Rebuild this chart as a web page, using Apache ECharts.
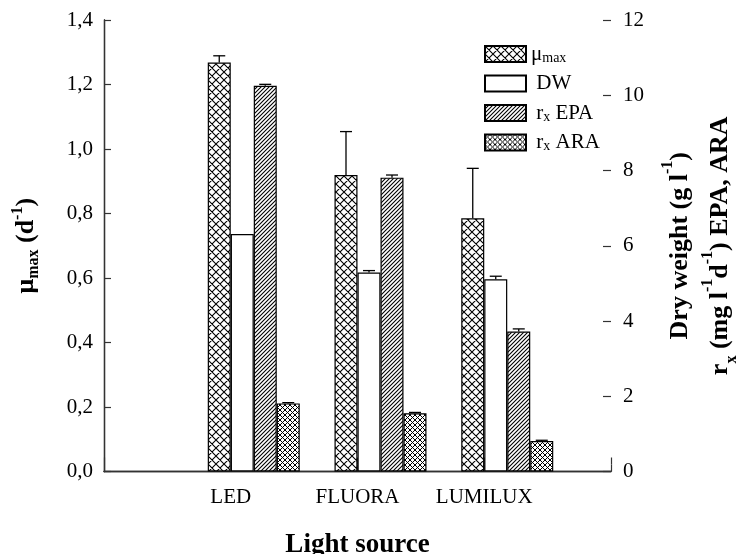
<!DOCTYPE html>
<html>
<head>
<meta charset="utf-8">
<script src="https://cdn.jsdelivr.net/npm/echarts@6/dist/echarts.min.js"></script>
<style>
  html, body { margin: 0; padding: 0; background: #fff; }
  #main { width: 739px; height: 554px; }
</style>
</head>
<body>
<div id="main"></div>
<script>
// light sources, placed at 1, 2, 3 on the x axis
const lightSources = ['LED', 'FLUORA', 'LUMILUX'];

// mu max (1/d), left axis
const muMax = [1.268, 0.919, 0.785];
const muMaxErr = [0.021, 0.135, 0.155];
// dry weight (g/l), right axis
const dryWeight = [6.31, 5.29, 5.11];
const dryWeightErr = [0.0, 0.05, 0.08];
// EPA productivity (mg/l/d), right axis
const epaRate = [10.25, 7.81, 3.72];
const epaRateErr = [0.04, 0.07, 0.07];
// ARA productivity (mg/l/d), right axis
const araRate = [1.81, 1.55, 0.81];
const araRateErr = [0.02, 0.02, 0.02];

const legendNames = ['μmax', 'DW', 'rx EPA', 'rx ARA'];

const FONT = '"Liberation Serif", "DejaVu Serif", serif';
const BAR_W = 23;
const CAP = 6;
const GRID_W = 507;
const GRID_H = 451.5;

// hatch fills drawn on small canvases
function hatch(size, kind, lw) {
  const c = document.createElement('canvas');
  c.width = size; c.height = size;
  const g = c.getContext('2d');
  g.fillStyle = '#fff';
  g.fillRect(0, 0, size, size);
  g.strokeStyle = '#000';
  g.lineWidth = lw;
  g.beginPath();
  // "/" lines
  g.moveTo(-1, size + 1); g.lineTo(size + 1, -1);
  g.moveTo(-1, 1); g.lineTo(1, -1);
  g.moveTo(size - 1, size + 1); g.lineTo(size + 1, size - 1);
  if (kind === 'cross') {
    g.moveTo(-1, -1); g.lineTo(size + 1, size + 1);
    g.moveTo(size - 1, -1); g.lineTo(size + 1, 1);
    g.moveTo(-1, size - 1); g.lineTo(1, size + 1);
  }
  g.stroke();
  return { image: c, repeat: 'repeat' };
}

const fills = [
  hatch(8, 'cross', 1.1),
  '#ffffff',
  hatch(4, 'slash', 1.1),
  hatch(5, 'cross', 1)
];

const values = [muMax, dryWeight, epaRate, araRate];
const errors = [muMaxErr, dryWeightErr, epaRateErr, araRateErr];
const axisOf = [0, 1, 1, 1];

function pairs(arr) {
  return arr.map((v, i) => [i + 1, v]);
}

function errorRender(slot) {
  return function (params, api) {
    const pos = api.value(0), mean = api.value(1), err = api.value(2);
    if (!err) return null;
    const top = api.coord([pos, mean]);
    const hi = api.coord([pos, mean + err]);
    const x = top[0] + (slot + 0.5) * BAR_W;
    const st = { stroke: '#000', lineWidth: 1.3 };
    return {
      type: 'group',
      children: [
        { type: 'line', shape: { x1: x, y1: top[1], x2: x, y2: hi[1] }, style: st },
        { type: 'line', shape: { x1: x - CAP, y1: hi[1], x2: x + CAP, y2: hi[1] }, style: st }
      ]
    };
  };
}

const series = [];
// two empty slots so the group of four starts one bar left of the position
for (let k = 0; k < 2; k++) {
  series.push({ name: 'pad' + k, type: 'bar', data: [], barWidth: BAR_W, barGap: '0%', silent: true });
}
legendNames.forEach((name, k) => {
  series.push({
    name: name,
    type: 'bar',
    yAxisIndex: axisOf[k],
    barWidth: BAR_W,
    barGap: '0%',
    data: pairs(values[k]),
    itemStyle: { color: fills[k], borderColor: '#000', borderWidth: 1.2 },
    silent: true
  });
});
legendNames.forEach((name, k) => {
  series.push({
    name: name + ' err',
    type: 'custom',
    yAxisIndex: axisOf[k],
    renderItem: errorRender(k - 1),
    data: values[k].map((v, i) => [i + 1, v, errors[k][i]]),
    z: 5,
    silent: true
  });
});

const chart = echarts.init(document.getElementById('main'));

function axisLine() {
  return { show: true, lineStyle: { color: '#333', width: 1.3 } };
}
function tick(len) {
  return { show: true, length: len, lineStyle: { color: '#333', width: 1.2 } };
}
const labelStyle = { color: '#000', fontFamily: FONT, fontSize: 21 };

// tick-only copies shifted into the plot, so the ticks point inwards
function tickAxis(base, position, offset, len) {
  return Object.assign({}, base, {
    position: position, offset: offset,
    axisLine: { show: false }, axisTick: tick(len), axisLabel: { show: false },
    splitLine: { show: false }, name: ''
  });
}

chart.setOption({
  animation: false,
  backgroundColor: '#fff',
  grid: { left: 104, top: 20, width: GRID_W, height: GRID_H, outerBoundsMode: 'none', containLabel: false },
  legend: {
    data: legendNames,
    orient: 'vertical',
    left: 479,
    top: 38,
    itemWidth: 41,
    itemHeight: 16,
    itemGap: 7.5,
    selectedMode: false,
    icon: 'rect',
    formatter: function (name) {
      if (name === 'μmax') return 'μ{sub|max}';
      if (name === 'DW') return ' DW';
      return ' r{sub|x} ' + name.slice(3);
    },
    textStyle: {
      color: '#000', fontFamily: FONT, fontSize: 21, lineHeight: 22,
      rich: { sub: { fontFamily: FONT, fontSize: 14, lineHeight: 12, verticalAlign: 'bottom' } }
    }
  },
  xAxis: [
    {
      type: 'value', min: 0, max: 4, interval: 1,
      axisLine: axisLine(), axisTick: { show: false }, splitLine: { show: false },
      axisLabel: Object.assign({ margin: 15, formatter: v => lightSources[v - 1] || '' }, labelStyle),
      name: 'Light source', nameLocation: 'middle', nameGap: 60,
      nameTextStyle: { color: '#000', fontFamily: FONT, fontSize: 27, fontWeight: 'bold' }
    },
    {
      type: 'value', position: 'top', min: 0, max: 4, interval: 1,
      axisLine: axisLine(), axisTick: { show: false }, splitLine: { show: false }, axisLabel: { show: false }
    },
    tickAxis({ type: 'value', min: 0, max: 4, interval: 1 }, 'top', -7, 7),
    tickAxis({ type: 'value', min: 0, max: 4, interval: 1 }, 'top', -GRID_H, 7)
  ],
  yAxis: [
    {
      type: 'value', min: 0, max: 1.4, interval: 0.2,
      axisLine: axisLine(), axisTick: { show: false }, splitLine: { show: false },
      axisLabel: Object.assign({ margin: 11, formatter: v => v.toFixed(1).replace('.', ',') }, labelStyle),
      name: 'μ{sub|max} (d{sup|-1})', nameLocation: 'middle', nameGap: 62, nameRotate: 90,
      nameTextStyle: {
        color: '#000', fontFamily: FONT, fontSize: 26, fontWeight: 'bold', lineHeight: 32,
        rich: {
          sub: { fontFamily: FONT, fontSize: 16, fontWeight: 'bold', verticalAlign: 'bottom', lineHeight: 16 },
          sup: { fontFamily: FONT, fontSize: 16, fontWeight: 'bold', verticalAlign: 'top', lineHeight: 16 }
        }
      }
    },
    {
      type: 'value', position: 'right', min: 0, max: 12, interval: 2,
      axisLine: axisLine(), axisTick: { show: false }, splitLine: { show: false },
      axisLabel: Object.assign({ margin: 12 }, labelStyle),
      name: 'Dry weight (g l{sup|-1})\nr{sub|x} (mg l{sup|-1}d{sup|-1}) EPA, ARA',
      nameLocation: 'middle', nameGap: 49, nameRotate: 90,
      nameTextStyle: {
        color: '#000', fontFamily: FONT, fontSize: 26, fontWeight: 'bold', lineHeight: 40,
        rich: {
          sub: { fontFamily: FONT, fontSize: 16, fontWeight: 'bold', verticalAlign: 'bottom', lineHeight: 24 },
          sup: { fontFamily: FONT, fontSize: 16, fontWeight: 'bold', verticalAlign: 'top', lineHeight: 24 }
        }
      }
    },
    tickAxis({ type: 'value', min: 0, max: 1.4, interval: 0.2 }, 'left', -7, 7),
    tickAxis({ type: 'value', min: 0, max: 12, interval: 2 }, 'left', -GRID_W, 8)
  ],
  series: series
});
</script>
</body>
</html>
